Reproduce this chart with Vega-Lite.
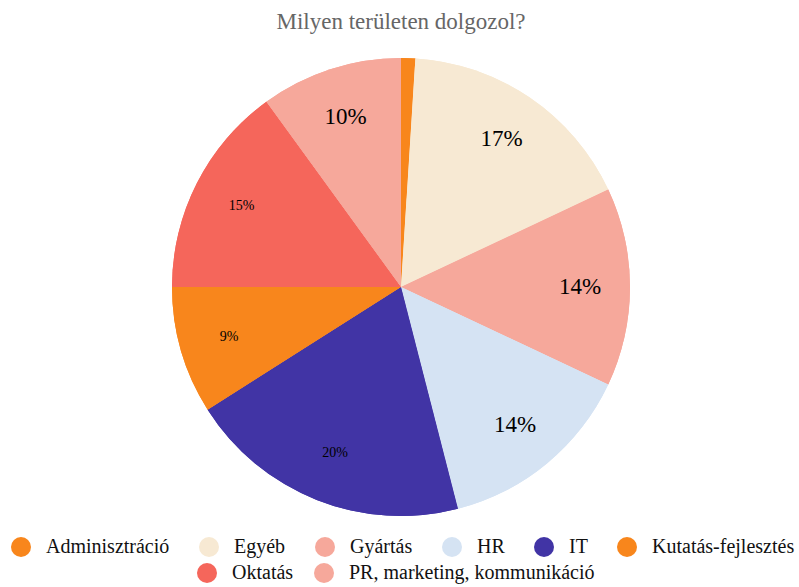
{
  "$schema": "https://vega.github.io/schema/vega-lite/v6.json",
  "autosize": "none",
  "width": 796,
  "height": 494,
  "padding": {"top": 40, "bottom": 53, "left": 3, "right": 0},
  "title": {"text": "Milyen területen dolgozol?", "font": "Liberation Serif", "fontSize": 23, "fontWeight": "normal", "color": "#666666", "offset": 6, "anchor": "middle"},
  "data": {"values": [
    {"category": "Adminisztráció", "value": 1, "label": ""},
    {"category": "Egyéb", "value": 17, "label": "17%"},
    {"category": "Gyártás", "value": 14, "label": "14%"},
    {"category": "HR", "value": 14, "label": "14%"},
    {"category": "IT", "value": 20, "label": "20%"},
    {"category": "Kutatás-fejlesztés", "value": 9, "label": "9%"},
    {"category": "Oktatás", "value": 15, "label": "15%"},
    {"category": "PR, marketing, kommunikáció", "value": 10, "label": "10%"}
  ]},
  "layer": [
    {
      "mark": {"type": "arc", "outerRadius": 229},
      "encoding": {
        "theta": {"field": "value", "type": "quantitative", "stack": true},
        "order": {"field": "category", "type": "ordinal", "sort": "ascending"},
        "color": {"field": "category", "type": "nominal",
          "scale": {"domain": ["Adminisztráció", "Egyéb", "Gyártás", "HR", "IT", "Kutatás-fejlesztés", "Oktatás", "PR, marketing, kommunikáció"],
                    "range": ["#F8861C", "#F7E9D3", "#F6A89B", "#D5E3F3", "#4134A5", "#F8861C", "#F5665B", "#F6A89B"]},
          "legend": {"values": ["Adminisztráció", "Egyéb", "Gyártás", "HR", "IT", "Kutatás-fejlesztés"], "orient": "none", "direction": "horizontal", "legendX": 8, "legendY": 497, "title": null, "columnPadding": 29}
        }
      }
    },
    {
      "mark": {"type": "arc", "outerRadius": 229},
      "encoding": {
        "theta": {"field": "value", "type": "quantitative", "stack": true},
        "order": {"field": "category", "type": "ordinal", "sort": "ascending"},
        "color": {"field": "category", "type": "nominal",
          "scale": {"domain": ["Adminisztráció", "Egyéb", "Gyártás", "HR", "IT", "Kutatás-fejlesztés", "Oktatás", "PR, marketing, kommunikáció"],
                    "range": ["#F8861C", "#F7E9D3", "#F6A89B", "#D5E3F3", "#4134A5", "#F8861C", "#F5665B", "#F6A89B"]},
          "legend": {"values": ["Oktatás", "PR, marketing, kommunikáció"], "orient": "none", "direction": "horizontal", "legendX": 194, "legendY": 523, "title": null, "columnPadding": 20}
        }
      }
    },
    {
      "mark": {"type": "text", "radius": 179, "font": "Liberation Serif", "color": "#000000"},
      "encoding": {
        "theta": {"field": "value", "type": "quantitative", "stack": true},
        "order": {"field": "category", "type": "ordinal", "sort": "ascending"},
        "detail": {"field": "category", "type": "nominal"},
        "text": {"field": "label", "type": "nominal"},
        "size": {"condition": {"test": "indexof(['Oktatás','IT','Kutatás-fejlesztés'], datum.category) >= 0", "value": 14}, "value": 23}
      }
    }
  ],
  "resolve": {"scale": {"color": "independent"}, "legend": {"color": "independent"}},
  "config": {
    "view": {"stroke": null},
    "legend": {"labelFont": "Liberation Serif", "labelFontSize": 20, "labelColor": "#111111", "symbolType": "circle", "symbolSize": 400, "symbolStrokeWidth": 0, "symbolOpacity": 1, "labelOffset": 15, "labelLimit": 400, "padding": 0}
  }
}
